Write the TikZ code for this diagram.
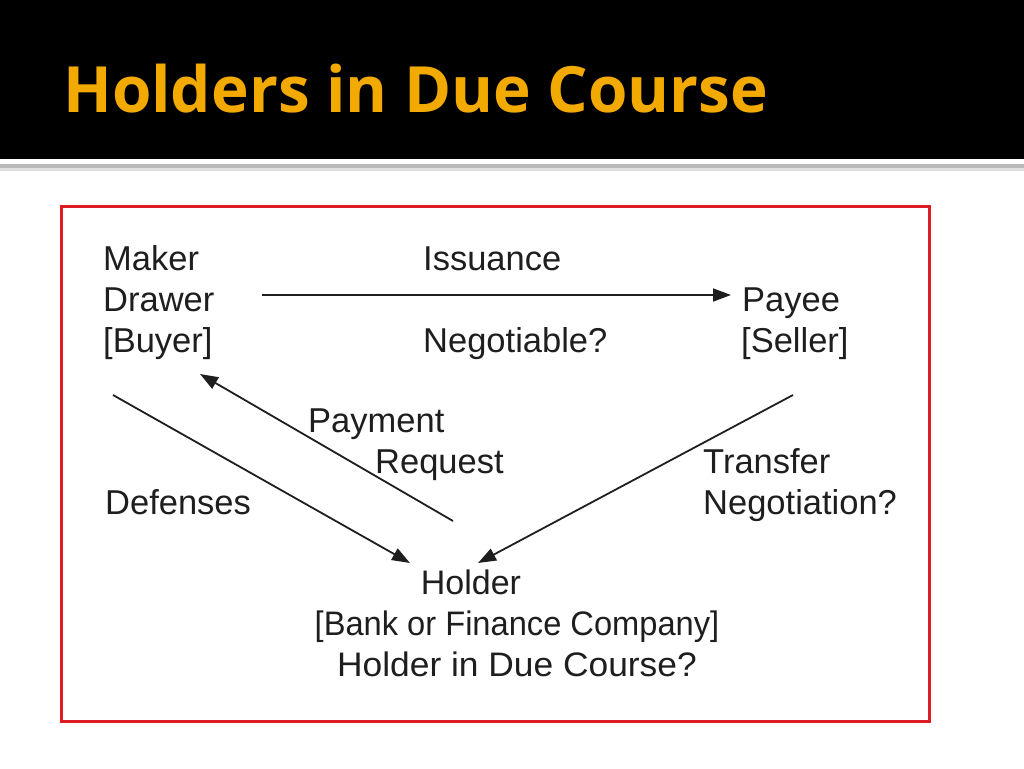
\documentclass[tikz,border=0pt]{standalone}
\usepackage{fontspec}
\usepackage{graphicx}
\setmainfont{Liberation Sans}
\newfontfamily\titlefont{Open Sans}
\usetikzlibrary{arrows.meta}
\definecolor{titlegold}{RGB}{242,169,0}
\definecolor{framered}{RGB}{220,30,36}
\definecolor{inktext}{RGB}{30,30,30}
\begin{document}
\begin{tikzpicture}[x=1pt,y=-1pt,
  lbl/.style={inner sep=0pt,anchor=base west,text=inktext,font=\fontsize{34.5}{41}\selectfont,align=left},
  clbl/.style={inner sep=0pt,anchor=base,text=inktext,font=\fontsize{34}{41}\selectfont,align=center},
  conn/.style={draw=inktext,line width=1.8pt,-{Triangle[length=18pt,width=13pt]}}]
\useasboundingbox (0,0) rectangle (1024,768);
% header
\fill[black] (0,0) rectangle (1024,159);
\fill[gray!55] (0,164) rectangle (1024,168);
\fill[gray!25] (0,168) rectangle (1024,171);
\node[inner sep=0pt,anchor=base west,text=titlegold,font=\titlefont\bfseries\fontsize{63.8}{72}\selectfont] (title) at (63,112) {Holders in Due Course};
% frame
\draw[framered,line width=3pt] (61,206) rectangle (929,721);
% labels (base = baseline of last line)
\node[lbl] (maker) at (103,352) {Maker\\Drawer\\{[}Buyer]};
\node[lbl] (issuance) at (423,270) {Issuance};
\node[lbl] (negotiable) at (423,352) {Negotiable?};
\node[lbl] (payee) at (741,352) {\hspace*{1pt}Payee\\{[}Seller]};
\node[lbl] (payment) at (308,473) {Payment\\\hspace*{67pt}Request};
\node[lbl] (defenses) at (105,514) {Defenses};
\node[lbl] (transfer) at (703,514) {Transfer\\Negotiation?};
\node[clbl] (holder) at (517,676) {Holder\hspace*{92pt}\\\scalebox{0.96}[1]{[Bank or Finance Company]}\\\scalebox{1.04}[1]{Holder in Due Course?}};
% connector end points
\coordinate (issA) at (262,295);
\coordinate (issB) at (731,295);
\coordinate (defA) at (113,395);
\coordinate (defB) at (410,563);
\coordinate (trA) at (793,395);
\coordinate (trB) at (478,563);
\coordinate (payA) at (453,521);
\coordinate (payB) at (200,374);
\draw[conn] (issA) -- (issB);
\draw[conn] (defA) -- (defB);
\draw[conn] (trA) -- (trB);
\draw[conn] (payA) -- (payB);
\end{tikzpicture}
\end{document}
